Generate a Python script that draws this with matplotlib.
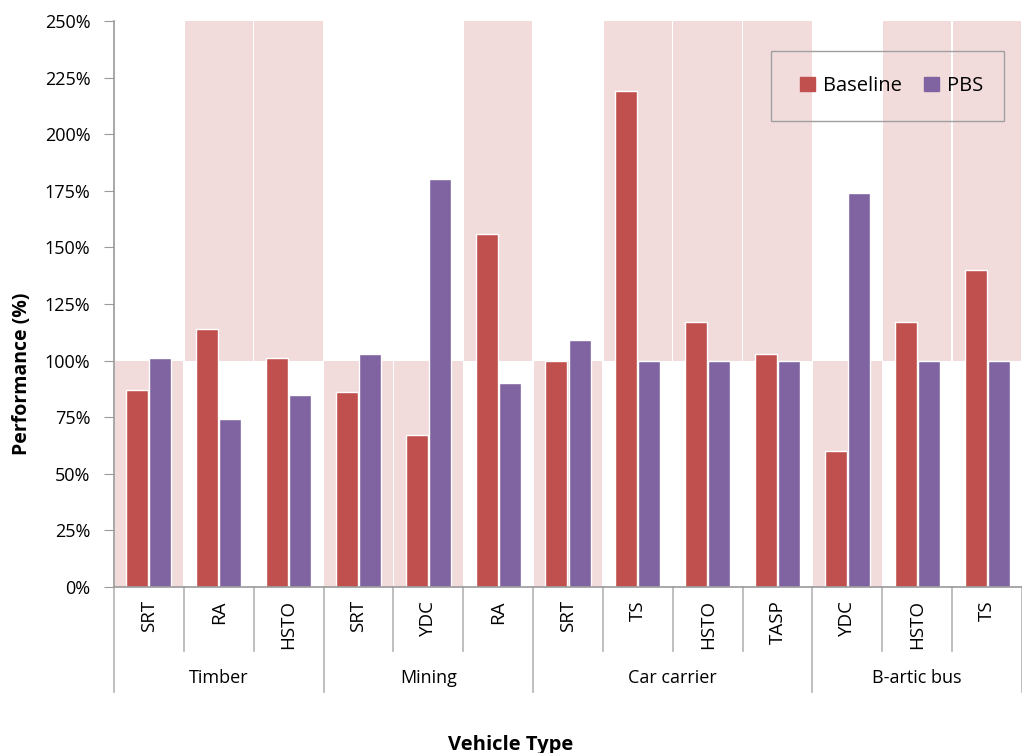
import matplotlib.pyplot as plt
from matplotlib.patches import Patch, Rectangle
from matplotlib.ticker import FuncFormatter
import matplotlib.transforms as mtransforms

plt.rcParams['font.family'] = ['Open Sans', 'DejaVu Sans']

# Dados
grupos = ['Timber', 'Mining', 'Car carrier', 'B-artic bus']
n_por_grupo = [3, 3, 4, 3]
medidas = ['SRT', 'RA', 'HSTO', 'SRT', 'YDC', 'RA', 'SRT', 'TS', 'HSTO', 'TASP', 'YDC', 'HSTO', 'TS']
baseline = [87, 114, 101, 86, 67, 156, 100, 219, 117, 103, 60, 117, 140]
pbs = [101, 74, 85, 103, 180, 90, 109, 100, 100, 100, 174, 100, 100]
# zona de aprovação: abaixo de 100% (SRT, YDC) ou acima de 100%
zona_abaixo = ['SRT', 'YDC']

vermelho = '#C0504D'
roxo = '#8064A2'
rosa = '#F2DCDB'
cinza = '#9A9A9A'

fig = plt.figure(figsize=(10.22, 7.53), dpi=100)
ax = fig.add_axes([114 / 1022, 1 - 587 / 753, 908 / 1022, 566 / 753])

ymax = 250
x = list(range(len(medidas)))

# fundo rosa
for i, m in enumerate(medidas):
    if m in zona_abaixo:
        ax.bar(i, 100, bottom=0, width=0.98, color=rosa, zorder=0)
    else:
        ax.bar(i, ymax - 100, bottom=100, width=0.98, color=rosa, zorder=0)

w = 0.315
ax.bar([i - 0.165 for i in x], baseline, width=w, color=vermelho,
       edgecolor='white', linewidth=1.0, zorder=2)
ax.bar([i + 0.165 for i in x], pbs, width=w, color=roxo,
       edgecolor='white', linewidth=1.0, zorder=2)

ax.set_xlim(-0.5, len(medidas) - 0.5)
ax.set_ylim(0, ymax)
ax.set_yticks(range(0, 251, 25))
ax.yaxis.set_major_formatter(FuncFormatter(lambda v, p: f'{v:.0f}%'))
ax.tick_params(axis='y', direction='out', length=7, color=cinza, labelsize=13, pad=10)
ax.set_xticks([])

for s in ['top', 'right']:
    ax.spines[s].set_visible(False)
ax.spines['left'].set_color(cinza)
ax.spines['bottom'].set_color(cinza)
ax.spines['left'].set_linewidth(1.2)
ax.spines['bottom'].set_linewidth(1.2)

# eixo x em dois níveis
trans = mtransforms.blended_transform_factory(ax.transData, ax.transAxes)
cat_len = 64 / 566
grp_len = 105 / 566
limites_grupo = [-0.5]
acc = -0.5
for n in n_por_grupo:
    acc += n
    limites_grupo.append(acc)

for k in range(len(medidas) + 1):
    xb = k - 0.5
    comprimento = grp_len if xb in limites_grupo else cat_len
    ax.plot([xb, xb], [0, -comprimento], color='#B4B4B4', lw=1.2,
            transform=trans, clip_on=False)

for i, m in enumerate(medidas):
    ax.text(i, -13 / 566, m, rotation=90, ha='center', va='top',
            fontsize=13.5, transform=trans)

for g, (a, b) in enumerate(zip(limites_grupo[:-1], limites_grupo[1:])):
    ax.text((a + b) / 2, -91 / 566, grupos[g], ha='center', va='center',
            fontsize=13, transform=trans)

fig.text(22 / 1022, 1 - 374 / 753, 'Performance (%)', rotation=90,
         ha='center', va='center', fontsize=14, fontweight='bold')
fig.text(511 / 1022, (753 - 750) / 753, 'Vehicle Type', ha='center',
         va='baseline', fontsize=14.5, fontweight='bold')

# legenda
x0 = (771 - 114) / 908
y0 = (587 - 121) / 566
lw_ = (1004 - 771) / 908
lh = 70 / 566
ax.add_patch(Rectangle((x0, y0), lw_, lh, transform=ax.transAxes, fill=False,
                       edgecolor='#A0A0A0', lw=1.0, zorder=5))
handles = [Patch(color=vermelho, label='Baseline'), Patch(color=roxo, label='PBS')]
ax.legend(handles=handles, loc='center',
          bbox_to_anchor=(x0 + lw_ / 2 + 4 / 908, y0 + lh / 2),
          ncol=2, frameon=False, fontsize=14.5, handlelength=0.75, handleheight=0.75,
          handletextpad=0.4, columnspacing=1.1)

fig.savefig('out.png', dpi=100)
